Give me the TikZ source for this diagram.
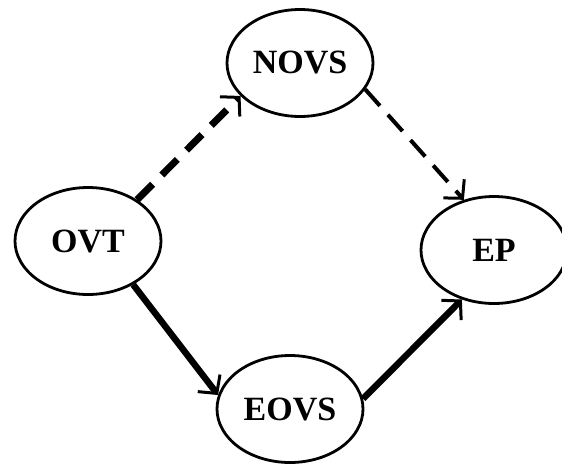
\documentclass[tikz,border=0pt]{standalone}
\usepackage{fontspec}
\setmainfont{Liberation Serif}
\usetikzlibrary{shapes.geometric,arrows.meta}
\tikzset{
  ell/.style={ellipse, draw, line width=2.8pt, inner sep=0pt,
    minimum width=146pt, minimum height=107pt,
    font=\fontsize{34}{40}\selectfont\bfseries},
  tip/.style={-{Straight Barb[length=13pt,width=28pt,line width=3pt]}},
  thickdash/.style={tip, line width=7pt, dash pattern=on 22pt off 13pt},
  thindash/.style={tip, line width=4pt, dash pattern=on 22pt off 12pt},
  solidarrow/.style={tip, line width=6.5pt}
}
\begin{document}
\begin{tikzpicture}[x=1pt,y=-1pt]
\useasboundingbox (0,0) rectangle (562,463);
\node[ell] (NOVS) at (300,63) {NOVS};
\node[ell] (OVT) at (88,241) {OVT};
\node[ell] (EP) at (494,250) {EP};
\node[ell] (EOVS) at (290,409) {EOVS};
\draw[thickdash] (OVT.40) -- (NOVS.209);
\draw[thindash] (NOVS.-22) -- (EP.121);
\draw[solidarrow] (OVT.-44) -- (EOVS.169);
\draw[solidarrow] (EOVS.8) -- (EP.237);
\end{tikzpicture}
\end{document}
